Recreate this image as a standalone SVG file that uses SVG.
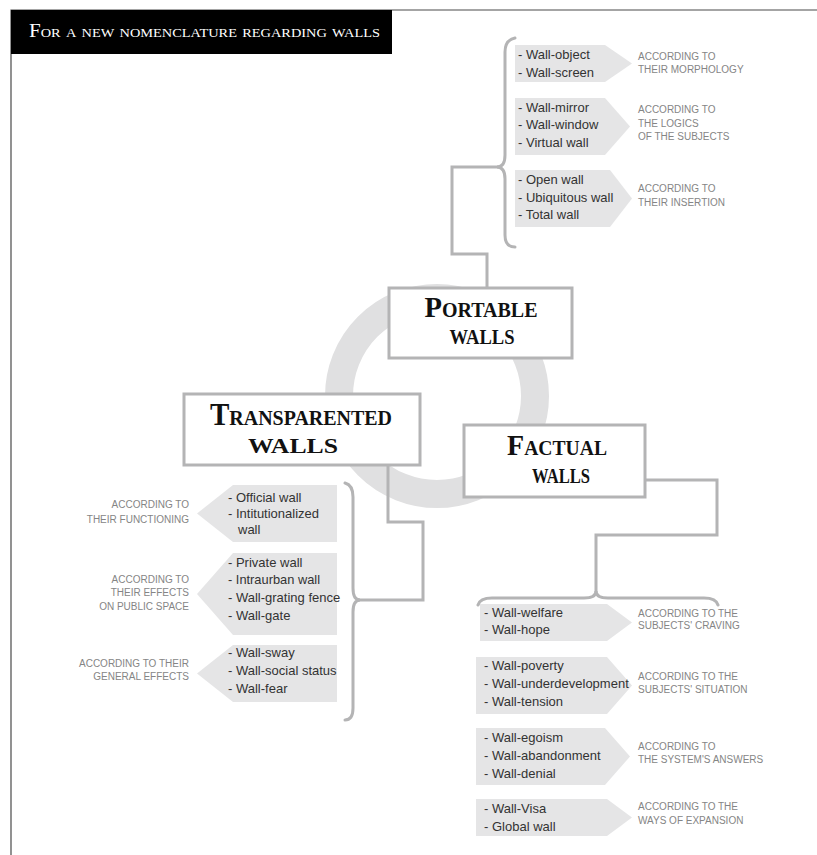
<svg xmlns="http://www.w3.org/2000/svg" width="817" height="855" viewBox="0 0 817 855">
<style>
.frame{stroke:#4a4a4a;stroke-width:1.2;fill:none}
.ring{fill:none;stroke:#e0e0e1;stroke-width:28}
.con{fill:none;stroke:#b4b4b5;stroke-width:3;stroke-linejoin:miter}
.brace{fill:none;stroke:#b4b4b5;stroke-width:3;stroke-linecap:round}
.box{fill:#fff;stroke:#b4b4b5;stroke-width:3}
.head{font-family:"Liberation Serif",serif;font-weight:bold;fill:#111;text-anchor:middle}
.item{fill:#e5e5e6}
.it{font-family:"Liberation Sans",Arial,sans-serif;font-size:13px;fill:#333}
.lb{font-family:"Liberation Sans",Arial,sans-serif;font-size:10px;fill:#858585}
.lr{text-anchor:end}
</style>
<rect width="817" height="855" fill="#fff"/>
<g id="frame">
<path class="frame" d="M11,855 L11,10 L817,10"/>
<rect x="11" y="10" width="381" height="44" fill="#000"/>
<text x="29" y="37" font-family="Liberation Serif,serif" font-size="19" font-variant="small-caps" fill="#fff" textLength="351" lengthAdjust="spacingAndGlyphs">For a new nomenclature regarding walls</text>
</g>
<circle class="ring" cx="437" cy="396" r="98"/>
<g id="connectors">
<path class="con" d="M487,288 L487,254 L452,254 L452,167 L498,167"/>
<path class="con" d="M388,465 L388,522 L423,522 L423,600 L358,600"/>
<path class="con" d="M645,480 L717,480 L717,535 L596,535 L596,592"/>
<path class="brace" d="M515,38 Q505,40 505,52 L505,155 Q505,167 497,167 Q505,167 505,179 L505,235 Q505,247 515,247"/>
<path class="brace" d="M345,483 Q353,485 353,497 L353,588 Q353,600 360,600 Q353,600 353,612 L353,708 Q353,720 345,720"/>
<path class="brace" d="M478,605 Q480,598 492,598 L584,598 Q596,598 596,591 Q596,598 608,598 L704,598 Q716,598 718,605"/>
</g>
<g id="portable">
<rect class="box" x="389" y="288" width="183" height="70"/>
<text class="head" x="481" y="317" font-size="21" textLength="113" lengthAdjust="spacingAndGlyphs"><tspan font-size="30">P</tspan>ORTABLE</text>
<text class="head" x="482" y="344" font-size="21" textLength="65" lengthAdjust="spacingAndGlyphs">WALLS</text>
</g>
<g id="transparented">
<rect class="box" x="184" y="394" width="236" height="71"/>
<text class="head" x="301" y="425" font-size="22" textLength="182" lengthAdjust="spacingAndGlyphs"><tspan font-size="32">T</tspan>RANSPARENTED</text>
<text class="head" x="293" y="453" font-size="22" textLength="90" lengthAdjust="spacingAndGlyphs">WALLS</text>
</g>
<g id="factual">
<rect class="box" x="464" y="425" width="181" height="72"/>
<text class="head" x="557" y="455" font-size="21" textLength="100" lengthAdjust="spacingAndGlyphs"><tspan font-size="30">F</tspan>ACTUAL</text>
<text class="head" x="561" y="483" font-size="21" textLength="58" lengthAdjust="spacingAndGlyphs">WALLS</text>
</g>
<g id="portable-items">
<path class="item" d="M515,45 L605,45 L632,63.5 L605,82 L515,82 Z"/>
<text class="it" x="518" y="59">- Wall-object</text>
<text class="it" x="518" y="77">- Wall-screen</text>
<text class="lb" x="638" y="60">ACCORDING TO</text>
<text class="lb" x="638" y="73">THEIR MORPHOLOGY</text>
<path class="item" d="M515,98 L605,98 L630,126.5 L605,155 L515,155 Z"/>
<text class="it" x="518" y="112">- Wall-mirror</text>
<text class="it" x="518" y="129">- Wall-window</text>
<text class="it" x="518" y="147">- Virtual wall</text>
<text class="lb" x="638" y="113">ACCORDING TO</text>
<text class="lb" x="638" y="127">THE LOGICS</text>
<text class="lb" x="638" y="140">OF THE SUBJECTS</text>
<path class="item" d="M515,170 L610,170 L632,198.5 L610,227 L515,227 Z"/>
<text class="it" x="518" y="184">- Open wall</text>
<text class="it" x="518" y="202">- Ubiquitous wall</text>
<text class="it" x="518" y="219">- Total wall</text>
<text class="lb" x="638" y="192">ACCORDING TO</text>
<text class="lb" x="638" y="206">THEIR INSERTION</text>
</g>
<g id="transparented-items">
<path class="item" d="M337,485 L233,485 L197,513.5 L233,542 L337,542 Z"/>
<text class="it" x="228" y="502">- Official wall</text>
<text class="it" x="228" y="518">- Intitutionalized</text>
<text class="it" x="238" y="534">wall</text>
<text class="lb lr" x="189" y="508">ACCORDING TO</text>
<text class="lb lr" x="189" y="523">THEIR FUNCTIONING</text>
<path class="item" d="M337,553 L233,553 L197,594 L233,635 L337,635 Z"/>
<text class="it" x="228" y="567">- Private wall</text>
<text class="it" x="228" y="584" textLength="92" lengthAdjust="spacingAndGlyphs">- Intraurban wall</text>
<text class="it" x="228" y="602">- Wall-grating fence</text>
<text class="it" x="228" y="620">- Wall-gate</text>
<text class="lb lr" x="189" y="583">ACCORDING TO</text>
<text class="lb lr" x="189" y="596">THEIR EFFECTS</text>
<text class="lb lr" x="189" y="610">ON PUBLIC SPACE</text>
<path class="item" d="M337,645 L233,645 L197,673.5 L233,702 L337,702 Z"/>
<text class="it" x="228" y="657">- Wall-sway</text>
<text class="it" x="228" y="675">- Wall-social status</text>
<text class="it" x="228" y="693">- Wall-fear</text>
<text class="lb lr" x="189" y="667">ACCORDING TO THEIR</text>
<text class="lb lr" x="189" y="680">GENERAL EFFECTS</text>
</g>
<g id="factual-items">
<path class="item" d="M480,604 L607,604 L632,622.5 L607,641 L480,641 Z"/>
<text class="it" x="484" y="617">- Wall-welfare</text>
<text class="it" x="484" y="634">- Wall-hope</text>
<text class="lb" x="638" y="617">ACCORDING TO THE</text>
<text class="lb" x="638" y="629">SUBJECTS' CRAVING</text>
<path class="item" d="M476,657 L607,657 L632,685.5 L607,714 L476,714 Z"/>
<text class="it" x="484" y="670">- Wall-poverty</text>
<text class="it" x="484" y="688">- Wall-underdevelopment</text>
<text class="it" x="484" y="706">- Wall-tension</text>
<text class="lb" x="638" y="680">ACCORDING TO THE</text>
<text class="lb" x="638" y="693">SUBJECTS' SITUATION</text>
<path class="item" d="M476,728 L605,728 L630,756.5 L605,785 L476,785 Z"/>
<text class="it" x="484" y="742">- Wall-egoism</text>
<text class="it" x="484" y="760">- Wall-abandonment</text>
<text class="it" x="484" y="778">- Wall-denial</text>
<text class="lb" x="638" y="750">ACCORDING TO</text>
<text class="lb" x="638" y="763">THE SYSTEM'S ANSWERS</text>
<path class="item" d="M476,799 L607,799 L632,817.5 L607,836 L476,836 Z"/>
<text class="it" x="484" y="813">- Wall-Visa</text>
<text class="it" x="484" y="831">- Global wall</text>
<text class="lb" x="638" y="810">ACCORDING TO THE</text>
<text class="lb" x="638" y="824">WAYS OF EXPANSION</text>
</g>
</svg>
